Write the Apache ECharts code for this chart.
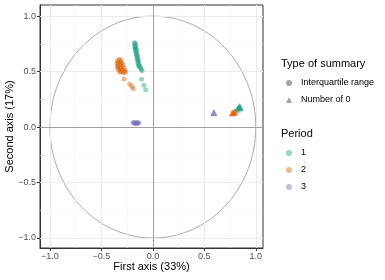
<!DOCTYPE html>
<html><head><meta charset="utf-8">
<script src="https://cdn.jsdelivr.net/npm/echarts@6/dist/echarts.min.js"></script>
<style>html,body{margin:0;padding:0;background:#fff}#c{width:385px;height:280px}</style>
</head><body><div id="c"></div>
<script>
// Period 1 / 2 / 3, summary = Interquartile range (circles)
const iqrPeriod1 = [[-0.18,0.76],[-0.17,0.755],[-0.175,0.74],[-0.165,0.73],[-0.178,0.72],[-0.168,0.71],[-0.16,0.70],[-0.172,0.69],[-0.158,0.68],[-0.165,0.665],[-0.152,0.655],[-0.16,0.645],[-0.148,0.635],[-0.155,0.62],[-0.142,0.61],[-0.15,0.60],[-0.14,0.59],[-0.145,0.575],[-0.135,0.565],[-0.14,0.55],[-0.128,0.545],[-0.12,0.535],[-0.115,0.52],[-0.104,0.507],[-0.11,0.43],[-0.087,0.376],[-0.07,0.337]];
const iqrPeriod2 = [[-0.33,0.61],[-0.31,0.605],[-0.345,0.595],[-0.32,0.59],[-0.335,0.58],[-0.30,0.58],[-0.35,0.57],[-0.315,0.565],[-0.335,0.555],[-0.29,0.56],[-0.345,0.545],[-0.305,0.545],[-0.325,0.535],[-0.28,0.535],[-0.34,0.525],[-0.31,0.52],[-0.29,0.515],[-0.33,0.51],[-0.27,0.51],[-0.30,0.50],[-0.32,0.495],[-0.265,0.495],[-0.285,0.49],[-0.28,0.432],[-0.225,0.387],[-0.205,0.366],[-0.19,0.345]];
const iqrPeriod3 = [[-0.195,0.038],[-0.185,0.042],[-0.175,0.035],[-0.165,0.04],[-0.155,0.037],[-0.145,0.04],[-0.135,0.036],[-0.17,0.03],[-0.15,0.03]];
// summary = Number of 0 (triangles)
const zeroPeriod1 = [[0.82,0.16],[0.83,0.175],[0.84,0.18],[0.845,0.185],[0.85,0.175]];
const zeroPeriod2 = [[0.77,0.128],[0.78,0.13],[0.79,0.135],[0.80,0.14]];
const zeroPeriod3 = [[0.59,0.13],[0.595,0.132]];

const periods = ['1','2','3'];
const summaryTypes = ['Interquartile range','Number of 0'];
const tickValues = [-1,-0.5,0,0.5,1];
const minorValues = [-0.75,-0.25,0.25,0.75];
const xTitle = 'First axis (33%)';
const yTitle = 'Second axis (17%)';

const colors = ['#1B9E77','#D95F02','#7570B3'];
const alpha = 0.55;
function rgba(hex,a){const n=parseInt(hex.slice(1),16);return `rgba(${n>>16},${(n>>8)&255},${n&255},${a})`;}
const FONT = '"Liberation Sans", Arial, sans-serif';

// unit correlation circle
const circle = [];
for (let d = 0; d <= 360; d += 2) { const t = d*Math.PI/180; circle.push([Math.cos(t), Math.sin(t)]); }

const gridLines = [];
minorValues.forEach(v=>{ gridLines.push({xAxis:v,lineStyle:{color:'#f3f3f3',width:0.6,type:'solid'}}); gridLines.push({yAxis:v,lineStyle:{color:'#f3f3f3',width:0.6,type:'solid'}}); });
tickValues.forEach(v=>{ gridLines.push({xAxis:v,lineStyle:{color:'#ebebeb',width:1,type:'solid'}}); gridLines.push({yAxis:v,lineStyle:{color:'#ebebeb',width:1,type:'solid'}}); });

const fmt = v => (v<0?'\u2212':'') + Math.abs(v).toFixed(1);

const series = [
  {type:'line',name:'grid',data:[],silent:true,z:0,
   markLine:{silent:true,symbol:['none','none'],label:{show:false},animation:false,lineStyle:{type:'solid'},data:gridLines}},
  {type:'line',name:'zero',data:[],silent:true,z:1,
   markLine:{silent:true,symbol:['none','none'],label:{show:false},animation:false,
     lineStyle:{color:'#a0a0a0',width:1,type:'solid'},data:[{xAxis:0},{yAxis:0}]}},
  {type:'line',name:'circle',data:circle,showSymbol:false,symbol:'none',silent:true,z:2,
   lineStyle:{color:'#a8a8a8',width:1},animation:false},
];
const iqr = [iqrPeriod1,iqrPeriod2,iqrPeriod3];
const zer = [zeroPeriod1,zeroPeriod2,zeroPeriod3];
for (let i=0;i<3;i++){
  series.push({type:'scatter',name:'iqr'+periods[i],data:iqr[i],symbol:'circle',symbolSize:5,z:5,
    itemStyle:{color:rgba(colors[i],alpha)},animation:false});
}
for (let i=0;i<3;i++){
  series.push({type:'scatter',name:'zero'+periods[i],data:zer[i],symbol:'triangle',symbolSize:7,z:5,
    itemStyle:{color:rgba(colors[i],alpha+0.15)},animation:false});
}
// legend-only series
series.push({type:'scatter',name:summaryTypes[0],data:[],symbol:'circle',itemStyle:{color:'rgba(0,0,0,0.45)'}});
series.push({type:'scatter',name:summaryTypes[1],data:[],symbol:'triangle',itemStyle:{color:'rgba(0,0,0,0.45)'}});
periods.forEach((p,i)=>series.push({type:'scatter',name:p,data:[],symbol:'circle',itemStyle:{color:rgba(colors[i],alpha)}}));

const legendCommon = {orient:'vertical',left:286,itemWidth:6,itemHeight:6,itemGap:5,selectedMode:false,padding:0,
  textStyle:{fontSize:9,fontFamily:FONT,color:'#000',lineHeight:12,padding:[0,0,0,4]}};

const option = {
  animation:false,
  grid:{left:40,right:122,top:5,bottom:32,containLabel:false,outerBoundsMode:'none',
        show:true,borderColor:'#333',borderWidth:1,backgroundColor:'transparent'},
  xAxis:{type:'value',min:-1.097,max:1.07,
    name:xTitle,nameLocation:'middle',nameGap:13,nameMoveOverlap:false,
    nameTextStyle:{fontSize:11,fontFamily:FONT,color:'#000',verticalAlign:'top'},
    axisLine:{show:true,onZero:false,lineStyle:{color:'#333'}},
    axisTick:{show:true,length:3,customValues:tickValues,lineStyle:{color:'#333'}},
    axisLabel:{customValues:tickValues,formatter:fmt,fontSize:9,fontFamily:FONT,color:'#4d4d4d',margin:4},
    splitLine:{show:false}},
  yAxis:{type:'value',min:-1.09,max:1.1,
    name:yTitle,nameLocation:'middle',nameGap:25,nameMoveOverlap:false,
    nameTextStyle:{fontSize:11,fontFamily:FONT,color:'#000'},
    axisLine:{show:true,onZero:false,lineStyle:{color:'#333'}},
    axisTick:{show:true,length:3,customValues:tickValues,lineStyle:{color:'#333'}},
    axisLabel:{customValues:tickValues,formatter:fmt,fontSize:9,fontFamily:FONT,color:'#4d4d4d',margin:4},
    splitLine:{show:false}},
  title:[
    {text:'Type of summary',left:281,top:58,textStyle:{fontSize:11,fontWeight:'normal',fontFamily:FONT,color:'#000'},padding:0},
    {text:'Period',left:281,top:128,textStyle:{fontSize:11,fontWeight:'normal',fontFamily:FONT,color:'#000'},padding:0}
  ],
  legend:[
    Object.assign({},legendCommon,{top:77,data:summaryTypes}),
    Object.assign({},legendCommon,{top:147,data:periods})
  ],
  series:series
};
const chart = echarts.init(document.getElementById('c'),null,{renderer:'canvas'});
chart.setOption(option);
</script></body></html>
